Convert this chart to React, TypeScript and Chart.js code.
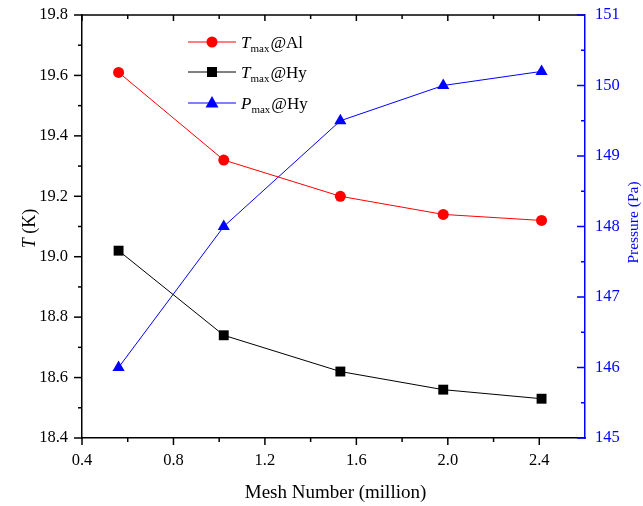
import React, { useEffect, useRef } from "react";
import { Chart, registerables } from "chart.js";

Chart.register(...registerables);

const meshNumbers = [0.56, 1.02, 1.53, 1.98, 2.41];
const tMaxAl = [19.61, 19.32, 19.2, 19.14, 19.12];
const tMaxHy = [19.02, 18.74, 18.62, 18.56, 18.53];
const pMaxHy = [146.0, 148.0, 149.5, 150.0, 150.2];

const xTicks = [0.4, 0.8, 1.2, 1.6, 2.0, 2.4];
const yTicks = [18.4, 18.6, 18.8, 19.0, 19.2, 19.4, 19.6, 19.8];
const y1Ticks = [145, 146, 147, 148, 149, 150, 151];

const legendItems = [
  { main: "T", sub: "max", rest: "@Al", color: "#ff0000", shape: "circle" },
  { main: "T", sub: "max", rest: "@Hy", color: "#000000", shape: "rect" },
  { main: "P", sub: "max", rest: "@Hy", color: "#0000ff", shape: "triangle" },
];

const FONT = "'Liberation Serif', 'Times New Roman', serif";
const BLUE = "#0000ff";

function seg(ctx: CanvasRenderingContext2D, x1: number, y1: number, x2: number, y2: number) {
  ctx.beginPath();
  ctx.moveTo(x1, y1);
  ctx.lineTo(x2, y2);
  ctx.stroke();
}

function drawMarker(ctx: CanvasRenderingContext2D, shape: string, cx: number, cy: number, color: string) {
  ctx.fillStyle = color;
  ctx.beginPath();
  if (shape === "circle") {
    ctx.arc(cx, cy, 5.5, 0, Math.PI * 2);
  } else if (shape === "rect") {
    ctx.rect(cx - 5, cy - 5, 10, 10);
  } else {
    ctx.moveTo(cx, cy - 7);
    ctx.lineTo(cx + 6.5, cy + 4.5);
    ctx.lineTo(cx - 6.5, cy + 4.5);
    ctx.closePath();
  }
  ctx.fill();
}

const decorPlugin = {
  id: "decor",
  afterDraw(chart: any) {
    const ctx: CanvasRenderingContext2D = chart.ctx;
    const { left, right, top, bottom } = chart.chartArea;
    const x = chart.scales.x;
    const y = chart.scales.y;
    const y1 = chart.scales.y1;
    ctx.save();
    ctx.lineWidth = 1.5;
    ctx.strokeStyle = "#000";
    ctx.fillStyle = "#000";
    ctx.font = `16.5px ${FONT}`;
    // top axis
    seg(ctx, left, top, right, top);
    // x ticks + labels
    ctx.textAlign = "center";
    ctx.textBaseline = "middle";
    xTicks.forEach((v) => {
      const px = x.getPixelForValue(v);
      seg(ctx, px, bottom, px, bottom + 7);
      seg(ctx, px, top, px, top + 6);
      ctx.fillText(v.toFixed(1), px, bottom + 23);
      const mv = v + 0.2;
      if (mv < x.max - 1e-6) {
        const mpx = x.getPixelForValue(mv);
        seg(ctx, mpx, bottom, mpx, bottom + 4);
        seg(ctx, mpx, top, mpx, top + 4);
      }
    });
    // left y ticks + labels
    ctx.textAlign = "right";
    yTicks.forEach((v, i) => {
      const py = y.getPixelForValue(v);
      seg(ctx, left - 8, py, left, py);
      ctx.fillText(v.toFixed(1), left - 14, py);
      if (i < yTicks.length - 1) {
        const mpy = y.getPixelForValue((v + yTicks[i + 1]) / 2);
        seg(ctx, left - 4, mpy, left, mpy);
      }
    });
    // right y ticks (inward, blue) + labels
    ctx.strokeStyle = BLUE;
    ctx.fillStyle = BLUE;
    ctx.textAlign = "left";
    y1Ticks.forEach((v, i) => {
      const py = y1.getPixelForValue(v);
      seg(ctx, right - 8, py, right, py);
      ctx.fillText(String(v), right + 10, py);
      if (i < y1Ticks.length - 1) {
        const mpy = y1.getPixelForValue((v + y1Ticks[i + 1]) / 2);
        seg(ctx, right - 4, mpy, right, mpy);
      }
    });

    // left title: T (K)
    ctx.save();
    ctx.translate(30, (top + bottom) / 2 + 2);
    ctx.rotate(-Math.PI / 2);
    ctx.fillStyle = "#000";
    ctx.font = `italic 18px ${FONT}`;
    const wT = ctx.measureText("T").width;
    ctx.font = `18px ${FONT}`;
    const wK = ctx.measureText(" (K)").width;
    const sx = -(wT + wK) / 2;
    ctx.textAlign = "left";
    ctx.font = `italic 18px ${FONT}`;
    ctx.fillText("T", sx, 0);
    ctx.font = `18px ${FONT}`;
    ctx.fillText(" (K)", sx + wT, 0);
    ctx.restore();

    // right title
    ctx.save();
    ctx.translate(634, (top + bottom) / 2 - 4);
    ctx.rotate(-Math.PI / 2);
    ctx.fillStyle = BLUE;
    ctx.font = `15.5px ${FONT}`;
    ctx.textAlign = "center";
    ctx.fillText("Pressure (Pa)", 0, 0);
    ctx.restore();

    // bottom title
    ctx.fillStyle = "#000";
    ctx.font = `19px ${FONT}`;
    ctx.textAlign = "center";
    ctx.fillText("Mesh Number (million)", (left + right) / 2 + 2, 493);

    // legend
    const lx1 = 188, lx2 = 236, mx = 212, tx = 241;
    const rowsY = [42, 72, 103];
    legendItems.forEach((it, i) => {
      const ly = rowsY[i];
      ctx.strokeStyle = it.color;
      ctx.lineWidth = 1;
      seg(ctx, lx1, ly, lx2, ly);
      drawMarker(ctx, it.shape, mx, ly, it.color);
      ctx.fillStyle = "#000";
      ctx.textAlign = "left";
      ctx.textBaseline = "alphabetic";
      const base = ly + 6;
      ctx.font = `italic 17px ${FONT}`;
      ctx.fillText(it.main, tx, base);
      let cx = tx + ctx.measureText(it.main).width;
      ctx.font = `11px ${FONT}`;
      ctx.fillText(it.sub, cx, base + 4);
      cx += ctx.measureText(it.sub).width + 1;
      ctx.font = `17px ${FONT}`;
      ctx.fillText(it.rest, cx, base);
    });
    ctx.restore();
  },
};

export default function App() {
  const canvasRef = useRef<HTMLCanvasElement | null>(null);

  useEffect(() => {
    if (!canvasRef.current) return;
    const mk = (ys: number[]) => meshNumbers.map((xv, i) => ({ x: xv, y: ys[i] }));
    const chart = new Chart(canvasRef.current, {
      type: "line",
      data: {
        datasets: [
          {
            label: "Tmax@Al",
            data: mk(tMaxAl),
            yAxisID: "y",
            borderColor: "#ff0000",
            backgroundColor: "#ff0000",
            borderWidth: 1,
            pointStyle: "circle",
            pointRadius: 5.5,
            pointBorderWidth: 0,
          },
          {
            label: "Tmax@Hy",
            data: mk(tMaxHy),
            yAxisID: "y",
            borderColor: "#000000",
            backgroundColor: "#000000",
            borderWidth: 1,
            pointStyle: "rect",
            pointRadius: 7,
            pointBorderWidth: 0,
          },
          {
            label: "Pmax@Hy",
            data: mk(pMaxHy),
            yAxisID: "y1",
            borderColor: BLUE,
            backgroundColor: BLUE,
            borderWidth: 1,
            pointStyle: "triangle",
            pointRadius: 7,
            pointBorderWidth: 0,
          },
        ],
      },
      options: {
        responsive: false,
        maintainAspectRatio: false,
        animation: false,
        layout: { padding: { top: 15, left: 0, right: 0, bottom: 0 } },
        plugins: {
          legend: { display: false },
          tooltip: { enabled: false },
        },
        scales: {
          x: {
            type: "linear",
            min: 0.4,
            max: 2.6,
            afterBuildTicks: (s: any) => {
              s.ticks = xTicks.map((v) => ({ value: v }));
            },
            afterFit: (s: any) => {
              s.height = 68;
            },
            grid: { display: false, drawTicks: false },
            border: { display: true, color: "#000", width: 1.5 },
            ticks: { display: false },
          },
          y: {
            type: "linear",
            position: "left",
            min: 18.4,
            max: 19.8,
            afterBuildTicks: (s: any) => {
              s.ticks = yTicks.map((v) => ({ value: v }));
            },
            afterFit: (s: any) => {
              s.width = 82;
            },
            grid: { display: false, drawTicks: false },
            border: { display: true, color: "#000", width: 1.5 },
            ticks: { display: false },
          },
          y1: {
            type: "linear",
            position: "right",
            min: 145,
            max: 151,
            afterBuildTicks: (s: any) => {
              s.ticks = y1Ticks.map((v) => ({ value: v }));
            },
            afterFit: (s: any) => {
              s.width = 58;
            },
            grid: { display: false, drawTicks: false },
            border: { display: true, color: BLUE, width: 1.5 },
            ticks: { display: false },
          },
        },
      },
      plugins: [decorPlugin],
    });
    return () => chart.destroy();
  }, []);

  return (
    <div style={{ position: "absolute", left: 0, top: 0, width: 643, height: 506, background: "#fff" }}>
      <canvas ref={canvasRef} width={643} height={506} />
    </div>
  );
}
